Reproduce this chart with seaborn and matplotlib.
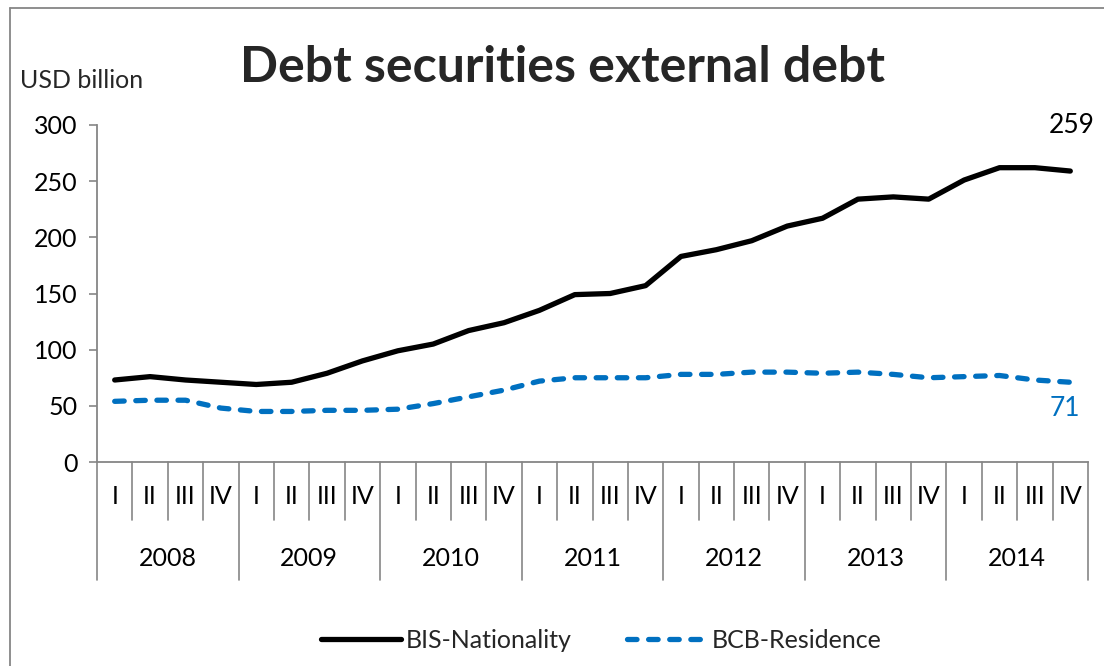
import matplotlib
matplotlib.use("Agg")
import matplotlib.pyplot as plt
import matplotlib.transforms as mtransforms
from matplotlib.lines import Line2D
import seaborn as sns
import pandas as pd
import numpy as np

years = ["2008", "2009", "2010", "2011", "2012", "2013", "2014"]
quarters = ["I", "II", "III", "IV"]
bis_nationality = [73, 76, 73, 71, 69, 71, 79, 90, 99, 105, 117, 124, 135, 149,
                   150, 157, 183, 189, 197, 210, 217, 234, 236, 234, 251, 262, 262, 259]
bcb_residence = [54, 55, 55, 48, 45, 45, 46, 46, 47, 52, 58, 64, 72, 75,
                 75, 75, 78, 78, 80, 80, 79, 80, 78, 75, 76, 77, 73, 71]
series_names = ["BIS-Nationality", "BCB-Residence"]
title = "Debt securities external debt"
y_unit = "USD billion"

sns.set_theme(style="white")
plt.rcParams["font.family"] = ["Lato", "DejaVu Sans"]

FS = 18

n = len(bis_nationality)
idx = np.arange(n)
df = pd.DataFrame({
    "t": np.concatenate([idx, idx]),
    "value": bis_nationality + bcb_residence,
    "series": [series_names[0]] * n + [series_names[1]] * n,
})

fig = plt.figure(figsize=(11.04, 6.66), dpi=100)
ax = fig.add_axes([97 / 1104, 204 / 666, (1088 - 97) / 1104, (462 - 125) / 666])

sns.lineplot(data=df[df.series == series_names[0]], x="t", y="value", ax=ax,
             color="black", linewidth=3.8, label=series_names[0])
sns.lineplot(data=df[df.series == series_names[1]], x="t", y="value", ax=ax,
             color="#0070C0", linewidth=3.8, label=series_names[1])
blue_line = ax.get_lines()[1]
blue_line.set_dashes((1.8, 2.2))
blue_line.set_dash_capstyle("round")
blue_line.set_solid_capstyle("round")
ax.get_lines()[0].set_solid_capstyle("round")

ax.set_xlim(-0.5, n - 0.5)
ax.set_ylim(0, 300)
ax.set_yticks(range(0, 301, 50))
ax.set_xlabel("")
ax.set_ylabel("")
ax.tick_params(axis="y", labelsize=FS, colors="#868686", labelcolor="black",
               length=6, width=1.2, direction="out", left=True, pad=8)
ax.set_xticks([])
for s in ["top", "right"]:
    ax.spines[s].set_visible(False)
for s in ["left", "bottom"]:
    ax.spines[s].set_color("#868686")
    ax.spines[s].set_linewidth(1.3)

trans = mtransforms.blended_transform_factory(ax.transData, ax.transAxes)
axh = (462 - 125)
q_depth = -(520 - 462) / axh
y_depth = -(580 - 462) / axh
for b in range(n + 1):
    depth = y_depth if b % 4 == 0 else q_depth
    ax.add_line(Line2D([b - 0.5, b - 0.5], [0, depth], transform=trans,
                       color="#868686", linewidth=1.2, clip_on=False))
for i in range(n):
    ax.text(i, -(497 - 462) / axh, quarters[i % 4], transform=trans,
            ha="center", va="center", fontsize=FS, color="black")
for k, yr in enumerate(years):
    ax.text(4 * k + 1.5, -(558 - 462) / axh, yr, transform=trans,
            ha="center", va="center", fontsize=FS, color="black")

ax.annotate(str(bis_nationality[-1]), (n - 1, bis_nationality[-1]),
            xytext=(1, 24), textcoords="offset points", ha="center", va="bottom",
            fontsize=19, color="black")
ax.annotate(str(bcb_residence[-1]), (n - 1, bcb_residence[-1]),
            xytext=(-4, -10), textcoords="offset points", ha="center", va="top",
            fontsize=19, color="#0070C0")

fig.text(20 / 1104, 1 - 80 / 666, y_unit, ha="left", va="center", fontsize=FS)
fig.text(563 / 1104, 1 - 67 / 666, title, ha="center", va="center",
         fontsize=36, fontweight="bold")

ax.get_legend().remove()
handles = [Line2D([], [], color="black", linewidth=3.8),
           Line2D([], [], color="#0070C0", linewidth=3.8, dashes=(1.8, 2.2),
                  dash_capstyle="round")]
fig.legend(handles, series_names, loc="center", bbox_to_anchor=(601 / 1104, 1 - 640 / 666),
           ncol=2, frameon=False, fontsize=FS, handlelength=3.2, columnspacing=2.2,
           handletextpad=0.2)

fig.add_artist(Line2D([10 / 1104, 10 / 1104], [0, 1 - 8 / 666], transform=fig.transFigure,
                      color="#868686", linewidth=1.3))
fig.add_artist(Line2D([10 / 1104, 1], [1 - 8 / 666, 1 - 8 / 666], transform=fig.transFigure,
                      color="#868686", linewidth=1.3))

fig.savefig("out.png", dpi=100)
